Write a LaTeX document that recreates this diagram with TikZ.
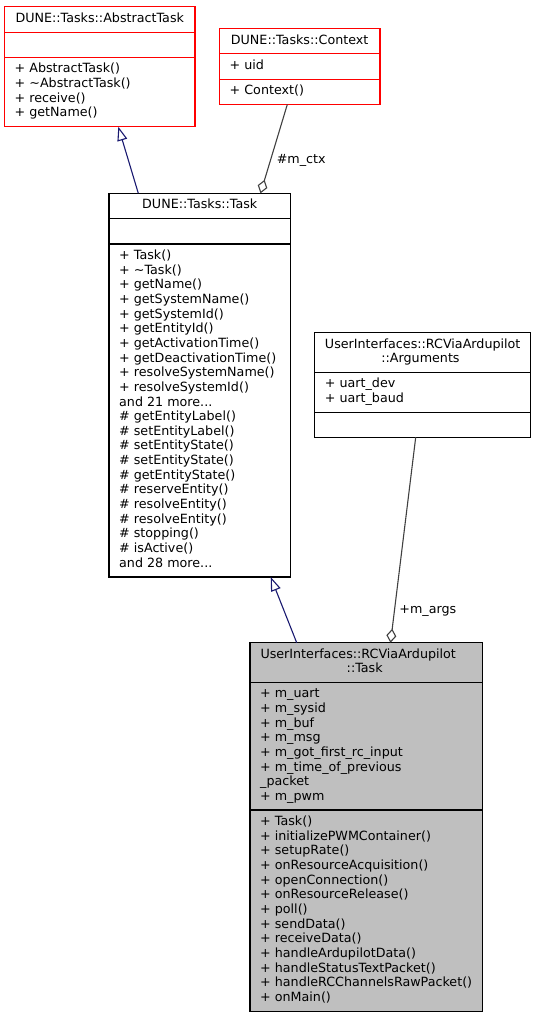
\documentclass[tikz,border=0pt]{standalone}
\usepackage{fontspec}
\setmainfont{DejaVu Sans}
\usetikzlibrary{arrows.meta}
\definecolor{edgeblue}{HTML}{191970}
\definecolor{edgegray}{HTML}{404040}
\definecolor{boxred}{HTML}{FF0000}
\definecolor{boxfill}{HTML}{BFBFBF}
\newcommand\mdots{...}
\tikzset{
  umlbox/.style={draw, rectangle, inner sep=0pt, outer sep=0pt, line width=1.2pt},
  txt/.style={anchor=base west, inner sep=0pt, font=\fontsize{12.7}{14.65}\selectfont},
  ttl/.style={anchor=base, inner sep=0pt, font=\fontsize{12.7}{14.65}\selectfont},
  inherit/.style={draw=edgeblue, line width=1.1pt, -{Triangle[length=14pt, width=10pt, fill=white]}},
  aggr/.style={draw=edgegray, line width=1.1pt, -{Diamond[length=14pt, width=10pt, fill=white]}},
}
\newcommand\umlsep[3]{\draw[line width=1.2pt, #3] (#1.west |- 0,#2) -- (#1.east |- 0,#2);}
\newcommand\umllines[5]{\foreach \t [count=\i from 0] in {#5} {\node[#4] (#1\i) at (#2, {#3+\i*14.65}) {\t};}}
\begin{document}
\begin{tikzpicture}[x=1pt, y=-1pt]
\useasboundingbox (0,0) rectangle (536,1019);

% AbstractTask
\node[umlbox, draw=boxred, minimum width=190.5pt, minimum height=120pt] (abs) at (99.75,66.7) {};
\umlsep{abs}{32.2}{boxred}
\umlsep{abs}{57.3}{boxred}
\node[ttl] (absT) at (99.75,22.2) {DUNE::Tasks::AbstractTask};
\umllines{absm}{14.5}{72.8}{txt}{+ AbstractTask(), + \textasciitilde AbstractTask(), + receive(), + getName()}

% Context
\node[umlbox, draw=boxred, minimum width=160.7pt, minimum height=75.8pt] (ctx) at (299.65,66.6) {};
\umlsep{ctx}{53.7}{boxred}
\umlsep{ctx}{79.3}{boxred}
\node[ttl] (ctxT) at (299.65,44.2) {DUNE::Tasks::Context};
\node[txt] (ctxa) at (229.5,69.2) {+ uid};
\node[txt] (ctxm) at (229.5,94.8) {+ Context()};

% DUNE Task
\node[umlbox, draw=black, minimum width=181.5pt, minimum height=383.7pt] (task) at (199.75,385.15) {};
\umlsep{task}{218.3}{black}
\umlsep{task}{244}{black}
\node[ttl] (taskT) at (199.75,208.8) {DUNE::Tasks::Task};
\umllines{taskm}{119}{259.5}{txt}{+ Task(), + \textasciitilde Task(), + getName(), + getSystemName(), + getSystemId(), + getEntityId(), + getActivationTime(), + getDeactivationTime(), + resolveSystemName(), + resolveSystemId(), {and 21 more\mdots}, {\# getEntityLabel()}, {\# setEntityLabel()}, {\# setEntityState()}, {\# setEntityState()}, {\# getEntityState()}, {\# reserveEntity()}, {\# resolveEntity()}, {\# resolveEntity()}, {\# stopping()}, {\# isActive()}, {and 28 more\mdots}}

% Arguments
\node[umlbox, draw=black, minimum width=216pt, minimum height=104.6pt] (args) at (422.7,385) {};
\umlsep{args}{372.3}{black}
\umlsep{args}{412.3}{black}
\node[ttl] (argsT1) at (422.7,348.2) {UserInterfaces::RCViaArdupilot};
\node[ttl] (argsT2) at (420.5,362.8) {::Arguments};
\umllines{argsa}{324.7}{387.8}{txt}{+ uart\_dev, + uart\_baud}

% RCViaArdupilot Task
\node[umlbox, draw=black, fill=boxfill, minimum width=232.7pt, minimum height=368.6pt] (rcv) at (366.35,827) {};
\umlsep{rcv}{682.3}{black}
\umlsep{rcv}{810}{black}
\node[txt] (rcvT1) at (260.3,658.2) {UserInterfaces::RCViaArdupilot};
\node[ttl] (rcvT2) at (364.7,672.8) {::Task};
\umllines{rcva}{260}{697.8}{txt}{+ m\_uart, + m\_sysid, + m\_buf, + m\_msg, + m\_got\_first\_rc\_input, + m\_time\_of\_previous, \_packet, + m\_pwm}
\umllines{rcvm}{260}{825.5}{txt}{+ Task(), + initializePWMContainer(), + setupRate(), + onResourceAcquisition(), + openConnection(), + onResourceRelease(), + poll(), + sendData(), + receiveData(), + handleArdupilotData(), + handleStatusTextPacket(), + handleRCChannelsRawPacket(), + onMain()}

% connectors
\draw[inherit] ([xshift=29.3pt]task.north west) -- ([xshift=113.8pt]abs.south west);
\draw[aggr] ([xshift=68pt]ctx.south west) -- ([xshift=151.5pt]task.north west);
\node[txt] (lctx) at (276.6,163.5) {\#m\_ctx};
\draw[inherit] ([xshift=46.7pt]rcv.north west) -- ([xshift=161.7pt]task.south west);
\draw[aggr] ([xshift=101pt]args.south west) -- ([xshift=140.5pt]rcv.north west);
\node[txt] (largs) at (399.2,613.3) {+m\_args};
\end{tikzpicture}
\end{document}
